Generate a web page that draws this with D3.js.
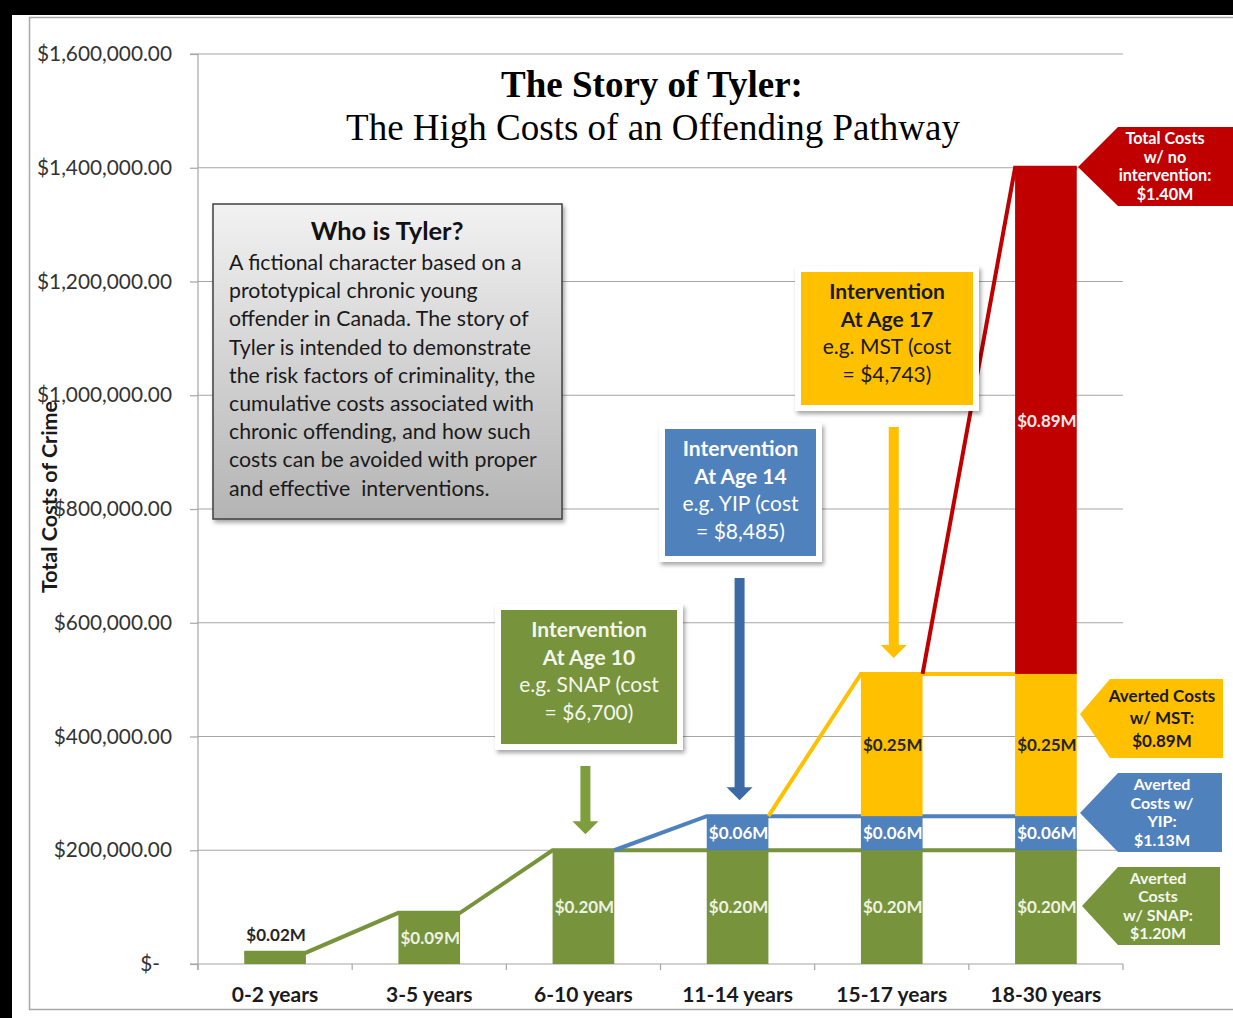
<!DOCTYPE html>
<html>
<head>
<meta charset="utf-8">
<script src="https://cdn.jsdelivr.net/npm/d3@7"></script>
<style>
body { margin: 0; background: #000; }
svg { display: block; }
text { font-family: Lato, "Open Sans", sans-serif; }
</style>
</head>
<body>
<svg id="chart" width="1233" height="1018"></svg>
<script>
// data (costs in dollars)
const categories = ["0-2 years", "3-5 years", "6-10 years", "11-14 years", "15-17 years", "18-30 years"];
const snapCosts = [20000, 90000, 200000, 200000, 200000, 200000];
const yipCosts = [0, 0, 0, 60000, 60000, 60000];
const mstCosts = [0, 0, 0, 0, 250000, 250000];
const noInterventionCosts = [0, 0, 0, 0, 0, 890000];
const yTicks = [0, 200000, 400000, 600000, 800000, 1000000, 1200000, 1400000, 1600000];

const seriesKeys = ["snap", "yip", "mst", "none"];
const colors = {snap: "#77933c", yip: "#4f81bd", mst: "#ffc000", none: "#c00000"};
const labelColors = {snap: "#edf2e2", yip: "#ffffff", mst: "#262626", none: "#fbe9e9"};

const rows = categories.map((c, i) => ({
    cat: c, snap: snapCosts[i], yip: yipCosts[i], mst: mstCosts[i], none: noInterventionCosts[i]
}));

const svg = d3.select("#chart");

// background + frame
svg.append("rect").attr("x", 12).attr("y", 15).attr("width", 1221).attr("height", 1003).attr("fill", "#fff");
svg.append("rect").attr("x", 29.5).attr("y", 17.5).attr("width", 1220).attr("height", 992)
    .attr("fill", "none").attr("stroke", "#a6a6a6").attr("stroke-width", 1.5);

const defs = svg.append("defs");
const grad = defs.append("linearGradient").attr("id", "boxgrad").attr("x1", 0).attr("y1", 0).attr("x2", 0).attr("y2", 1);
grad.append("stop").attr("offset", "0%").attr("stop-color", "#f2f2f2");
grad.append("stop").attr("offset", "100%").attr("stop-color", "#b4b4b4");
const shadow = defs.append("filter").attr("id", "shadow").attr("x", "-20%").attr("y", "-20%").attr("width", "140%").attr("height", "140%");
shadow.append("feDropShadow").attr("dx", 2).attr("dy", 3).attr("stdDeviation", 2).attr("flood-color", "#000").attr("flood-opacity", 0.35);

const plotLeft = 198, plotRight = 1123, plotTop = 54, plotBottom = 964;

const x = d3.scaleBand().domain(categories).range([plotLeft, plotRight]).paddingInner(0.6).paddingOuter(0.3);
const y = d3.scaleLinear().domain([0, 1600000]).range([plotBottom, plotTop]);
const step = x.step();

// gridlines
svg.append("g")
    .selectAll("line")
    .data(yTicks.filter(d => d > 0))
    .enter().append("line")
    .attr("x1", plotLeft).attr("x2", plotRight)
    .attr("y1", d => y(d)).attr("y2", d => y(d))
    .attr("stroke", "#a6a6a6").attr("stroke-width", 1.2);

// y axis
const yAxis = svg.append("g")
    .attr("transform", `translate(${plotLeft},0)`)
    .call(d3.axisLeft(y).tickValues(yTicks).tickSize(8).tickPadding(18)
        .tickFormat(d => d === 0 ? "$-" : "$" + d3.format(",.2f")(d)));
yAxis.select(".domain").attr("stroke", "#a6a6a6").attr("stroke-width", 1.2).attr("d", `M-8,${plotTop}H0V${plotBottom + 6}`);
yAxis.selectAll(".tick line").attr("stroke", "#a6a6a6").attr("stroke-width", 1.2);
yAxis.selectAll(".tick text")
    .style("font-size", "20.8px").attr("fill", "#333")
    .attr("dx", d => d === 0 ? -12 : 0);

// x axis
svg.append("line").attr("x1", plotLeft - 8).attr("x2", plotRight).attr("y1", plotBottom).attr("y2", plotBottom)
    .attr("stroke", "#a6a6a6").attr("stroke-width", 1.2);
svg.append("g").selectAll("line")
    .data(d3.range(categories.length + 1))
    .enter().append("line")
    .attr("x1", i => plotLeft + i * step).attr("x2", i => plotLeft + i * step)
    .attr("y1", plotBottom).attr("y2", plotBottom + 6)
    .attr("stroke", "#a6a6a6").attr("stroke-width", 1.2);
svg.append("g").selectAll("text")
    .data(categories)
    .enter().append("text")
    .attr("x", d => x(d) + x.bandwidth() / 2)
    .attr("y", 1002)
    .attr("text-anchor", "middle")
    .style("font-size", "21px").style("font-weight", "bold")
    .attr("fill", "#1a1a1a")
    .text(d => d);

// axis title
svg.append("text")
    .attr("transform", "translate(57,497) rotate(-90)")
    .attr("text-anchor", "middle")
    .style("font-size", "21.5px").style("font-weight", "bold")
    .attr("fill", "#1a1a1a")
    .text("Total Costs of Crime");

// title
svg.append("text").attr("x", 652).attr("y", 97).attr("text-anchor", "middle")
    .style("font-family", "'Liberation Serif', serif").style("font-size", "37px").style("font-weight", "bold")
    .attr("fill", "#000").text("The Story of Tyler:");
svg.append("text").attr("x", 653).attr("y", 140).attr("text-anchor", "middle")
    .style("font-family", "'Liberation Serif', serif").style("font-size", "37px")
    .attr("fill", "#000").text("The High Costs of an Offending Pathway");

// stacked bars
const stacked = d3.stack().keys(seriesKeys)(rows);

// connecting lines (cumulative cost path of each series)
stacked.forEach((layer, k) => {
    const first = layer.findIndex(d => d[1] > d[0]);
    const start = k === 0 ? 0 : first - 1;
    const pts = [];
    for (let i = start; i < categories.length; i++) {
        const cx = x(categories[i]);
        if (k === 0 || i > start) pts.push([cx, y(layer[i][1])]);
        pts.push([cx + x.bandwidth(), y(layer[i][1])]);
    }
    svg.append("path")
        .attr("d", d3.line()(pts))
        .attr("fill", "none")
        .attr("stroke", colors[layer.key])
        .attr("stroke-width", 4);
});

stacked.forEach(layer => {
    const g = svg.append("g");
    const segs = layer.map((d, i) => ({y0: d[0], y1: d[1], cat: categories[i], key: layer.key}))
        .filter(d => d.y1 > d.y0);
    g.selectAll("rect")
        .data(segs)
        .enter().append("rect")
        .attr("x", d => x(d.cat))
        .attr("y", d => y(d.y1))
        .attr("width", x.bandwidth())
        .attr("height", d => y(d.y0) - y(d.y1))
        .attr("fill", colors[layer.key]);
    g.selectAll("text")
        .data(segs)
        .enter().append("text")
        .attr("x", d => x(d.cat) + x.bandwidth() / 2 + 1)
        .attr("y", d => {
            const small = y(d.y0) - y(d.y1) < 24;
            return small ? y(d.y1) - 18 : (y(d.y0) + y(d.y1)) / 2;
        })
        .attr("dy", "0.35em")
        .attr("text-anchor", "middle")
        .style("font-size", "17px").style("font-weight", "bold")
        .attr("fill", d => (y(d.y0) - y(d.y1) < 24) ? "#262626" : labelColors[d.key])
        .text(d => "$" + ((d.y1 - d.y0) / 1e6).toFixed(2) + "M");
});

// "Who is Tyler?" box
const tyler = svg.append("g");
tyler.append("rect").attr("x", 213).attr("y", 204).attr("width", 349).attr("height", 315)
    .attr("fill", "url(#boxgrad)").attr("stroke", "#404040").attr("stroke-width", 1.5)
    .attr("filter", "url(#shadow)");
tyler.append("text").attr("x", 387).attr("y", 240).attr("text-anchor", "middle")
    .style("font-size", "25.5px").style("font-weight", "bold").attr("fill", "#111")
    .text("Who is Tyler?");
const tylerLines = [
    "A fictional character based on a",
    "prototypical chronic young",
    "offender in Canada. The story of",
    "Tyler is intended to demonstrate",
    "the risk factors of criminality, the",
    "cumulative costs associated with",
    "chronic offending, and how such",
    "costs can be avoided with proper",
    "and effective  interventions."
];
tyler.selectAll(".body").data(tylerLines).enter().append("text")
    .attr("class", "body")
    .attr("x", 229).attr("y", (d, i) => 270 + i * 28.2)
    .style("font-size", "21.3px").attr("fill", "#1a1a1a")
    .style("white-space", "pre")
    .text(d => d);

// intervention boxes
const interventions = [
    {x: 501, y: 610, w: 176, h: 134, cat: 2, key: "snap", fill: "#77933c", text: "#f4f7ee", arrow: "#7e9e3e",
     lines: ["Intervention", "At Age 10", "e.g. SNAP (cost", "= $6,700)"]},
    {x: 665, y: 429, w: 151, h: 127, cat: 3, key: "yip", fill: "#4f81bd", text: "#ffffff", arrow: "#3b6aa6",
     lines: ["Intervention", "At Age 14", "e.g. YIP (cost", "= $8,485)"]},
    {x: 801, y: 272, w: 172, h: 133, cat: 4, key: "mst", fill: "#ffc000", text: "#1a1a1a", arrow: "#ffc000",
     lines: ["Intervention", "At Age 17", "e.g. MST (cost", "= $4,743)"]}
];
interventions.forEach(b => {
    const g = svg.append("g");
    g.append("rect").attr("x", b.x - 6).attr("y", b.y - 6).attr("width", b.w + 12).attr("height", b.h + 12)
        .attr("fill", "#fff").attr("filter", "url(#shadow)");
    g.append("rect").attr("x", b.x).attr("y", b.y).attr("width", b.w).attr("height", b.h).attr("fill", b.fill);
    b.lines.forEach((t, i) => {
        g.append("text")
            .attr("x", b.x + b.w / 2).attr("y", b.y + 20 + i * 27.5).attr("dy", "0.35em")
            .attr("text-anchor", "middle")
            .style("font-size", "21px").style("font-weight", i < 2 ? "bold" : "normal")
            .attr("fill", b.text)
            .text(t);
    });
    // arrow down to the stack top
    const layer = stacked.find(l => l.key === b.key);
    const ax = x(categories[b.cat]) + x.bandwidth() / 2 + 2;
    const tip = y(layer[b.cat][1]) - 16;
    const y0 = b.y + b.h + 22;
    const sw = 5, hw = 13, hh = 13;
    g.append("path")
        .attr("d", `M${ax - sw},${y0}H${ax + sw}V${tip - hh}H${ax + hw}L${ax},${tip}L${ax - hw},${tip - hh}H${ax - sw}Z`)
        .attr("fill", b.arrow);
});

// callouts on the right
const callouts = [
    {top: 127, bottom: 206, tipX: 1078, tipY: 167, shoulder: 1118, right: 1245, fill: "#c00000", text: "#ffffff", cx: 1165, gap: 18.6, size: 16.2,
     lines: ["Total Costs", "w/ no", "intervention:", "$1.40M"]},
    {top: 679, bottom: 758, tipX: 1080, tipY: 714, shoulder: 1110, right: 1223, fill: "#ffc000", text: "#1a1a1a", cx: 1162, gap: 22.5, size: 17,
     lines: ["Averted Costs", "w/ MST:", "$0.89M"]},
    {top: 773, bottom: 852, tipX: 1080, tipY: 813, shoulder: 1118, right: 1222, fill: "#4f81bd", text: "#ffffff", cx: 1162, gap: 18.5, size: 16,
     lines: ["Averted", "Costs w/", "YIP:", "$1.13M"]},
    {top: 867, bottom: 945, tipX: 1082, tipY: 906, shoulder: 1118, right: 1220, fill: "#77933c", text: "#f4f7ee", cx: 1158, gap: 18.4, size: 16,
     lines: ["Averted", "Costs", "w/ SNAP:", "$1.20M"]}
];
callouts.forEach(c => {
    const g = svg.append("g");
    g.append("path")
        .attr("d", `M${c.tipX},${c.tipY}L${c.shoulder},${c.top}H${c.right}V${c.bottom}H${c.shoulder}Z`)
        .attr("fill", c.fill);
    const mid = (c.top + c.bottom) / 2;
    c.lines.forEach((t, i) => {
        g.append("text")
            .attr("x", c.cx).attr("y", mid + (i - (c.lines.length - 1) / 2) * c.gap).attr("dy", "0.35em")
            .attr("text-anchor", "middle")
            .style("font-size", c.size + "px").style("font-weight", "bold")
            .attr("fill", c.text)
            .text(t);
    });
});
</script>
</body>
</html>
